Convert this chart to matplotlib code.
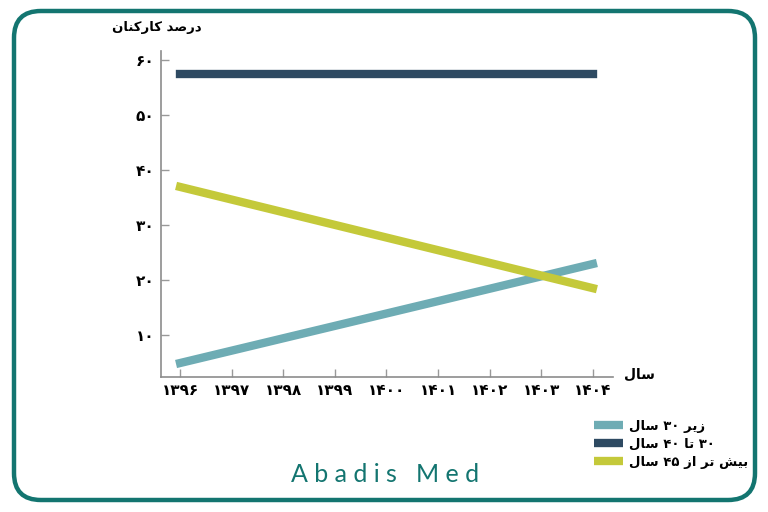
import matplotlib
matplotlib.use("Agg")
import matplotlib.pyplot as plt
from matplotlib.patches import FancyBboxPatch

# ── Data ────────────────────────────────────────────────────────────────────
years = [1396, 1404]
under_30 = [4.9, 22.9]
from_30_to_40 = [57.5, 57.5]
over_45 = [36.9, 18.5]

series_labels = ["زیر ۳۰ سال", "۳۰ تا ۴۰ سال", "بیش تر از ۴۵ سال"]
y_ticks = [10, 20, 30, 40, 50, 60]
x_ticks = list(range(1396, 1405))
y_title = "درصد کارکنان"
x_title = "سال"
brand = "Abadis Med"

COLORS = ["#6eacb4", "#2e4a62", "#c4c93a"]
FRAME = "#137570"

# ── minimal Persian shaping (matplotlib has no bidi / joining) ──────────────
# letter: (isolated, final, initial, medial); None = right-joining only
FORMS = {
    "ا": ("\uFE8D", "\uFE8E", None, None),
    "ب": ("\uFE8F", "\uFE90", "\uFE91", "\uFE92"),
    "ت": ("\uFE95", "\uFE96", "\uFE97", "\uFE98"),
    "د": ("\uFEA9", "\uFEAA", None, None),
    "ر": ("\uFEAD", "\uFEAE", None, None),
    "ز": ("\uFEAF", "\uFEB0", None, None),
    "س": ("\uFEB1", "\uFEB2", "\uFEB3", "\uFEB4"),
    "ش": ("\uFEB5", "\uFEB6", "\uFEB7", "\uFEB8"),
    "ص": ("\uFEB9", "\uFEBA", "\uFEBB", "\uFEBC"),
    "ک": ("\uFB8E", "\uFB8F", "\uFB90", "\uFB91"),
    "ل": ("\uFEDD", "\uFEDE", "\uFEDF", "\uFEE0"),
    "ن": ("\uFEE5", "\uFEE6", "\uFEE7", "\uFEE8"),
    "ی": ("\uFBFC", "\uFBFD", "\uFBFE", "\uFBFF"),
}
DIGITS = "۰۱۲۳۴۵۶۷۸۹"


def fa(text):
    chars = list(text)
    out = []
    for i, c in enumerate(chars):
        if c not in FORMS:
            out.append(c)
            continue
        prev = chars[i - 1] if i > 0 else ""
        nxt = chars[i + 1] if i + 1 < len(chars) else ""
        joins_prev = prev in FORMS and FORMS[prev][2] is not None
        joins_next = nxt in FORMS and FORMS[c][2] is not None
        iso, fin, ini, med = FORMS[c]
        if joins_prev and joins_next:
            out.append(med)
        elif joins_prev:
            out.append(fin)
        elif joins_next:
            out.append(ini)
        else:
            out.append(iso)
    # visual order: reverse, but keep digit runs left-to-right
    out = out[::-1]
    res, run = [], []
    for c in out:
        if c in DIGITS:
            run.append(c)
        else:
            res.extend(run[::-1])
            run = []
            res.append(c)
    res.extend(run[::-1])
    return "".join(res)


def fa_num(n):
    return "".join(DIGITS[int(d)] for d in str(n))


plt.rcParams["font.family"] = ["DejaVu Sans"]

fig = plt.figure(figsize=(7.68, 5.12), dpi=100)
fig.patch.set_facecolor("white")

frame = FancyBboxPatch((14 / 768, 12 / 512), 741 / 768, 489 / 512,
                       boxstyle="round,pad=0,rounding_size=0.035",
                       transform=fig.transFigure, facecolor="none",
                       edgecolor=FRAME, linewidth=3.2, zorder=-5,
                       mutation_aspect=768 / 512)
fig.patches.append(frame)

ax = fig.add_axes([161 / 768, 1 - 377 / 512, 452 / 768, 326 / 512])
ax.set_facecolor("none")

for vals, col, lab in zip([under_30, from_30_to_40, over_45], COLORS, series_labels):
    ax.plot(years, vals, color=col, lw=6, solid_capstyle="projecting",
            label=fa(lab))

ax.set_xlim(1395.63, 1404.39)
ax.set_ylim(2.36, 61.6)
ax.set_xticks(x_ticks)
ax.set_xticklabels([fa_num(v) for v in x_ticks], fontweight="bold", fontsize=11)
ax.set_yticks(y_ticks)
ax.set_yticklabels([fa_num(v) for v in y_ticks], fontweight="bold", fontsize=11)
ax.tick_params(direction="in", length=6, width=1, color="#999999", pad=5)
ax.tick_params(axis="x", pad=4)

for s in ("top", "right"):
    ax.spines[s].set_visible(False)
for s in ("left", "bottom"):
    ax.spines[s].set_color("#8c8c8c")
    ax.spines[s].set_linewidth(1.2)

fig.text(157 / 768, 1 - 27 / 512, fa(y_title), ha="center", va="center",
         fontsize=9.5, fontweight="bold")
fig.text(639 / 768, 1 - 375 / 512, fa(x_title), ha="center", va="center",
         fontsize=10, fontweight="bold")

leg = fig.legend(handles=ax.get_lines(), loc="upper left",
                 bbox_to_anchor=(594 / 768, 1 - 420 / 512),
                 frameon=False, borderpad=0, borderaxespad=0,
                 handlelength=2.2, handletextpad=0.45, labelspacing=0.38,
                 prop={"weight": "bold", "size": 9.5})
for h in leg.get_lines():
    h.set_linewidth(6)
    h.set_solid_capstyle("butt")

fig.text(385 / 768, 1 - 474 / 512, " ".join(brand), ha="center", va="center",
         fontsize=18, color=FRAME, fontfamily="Lato")

fig.savefig("out.png", dpi=100, facecolor="white")
